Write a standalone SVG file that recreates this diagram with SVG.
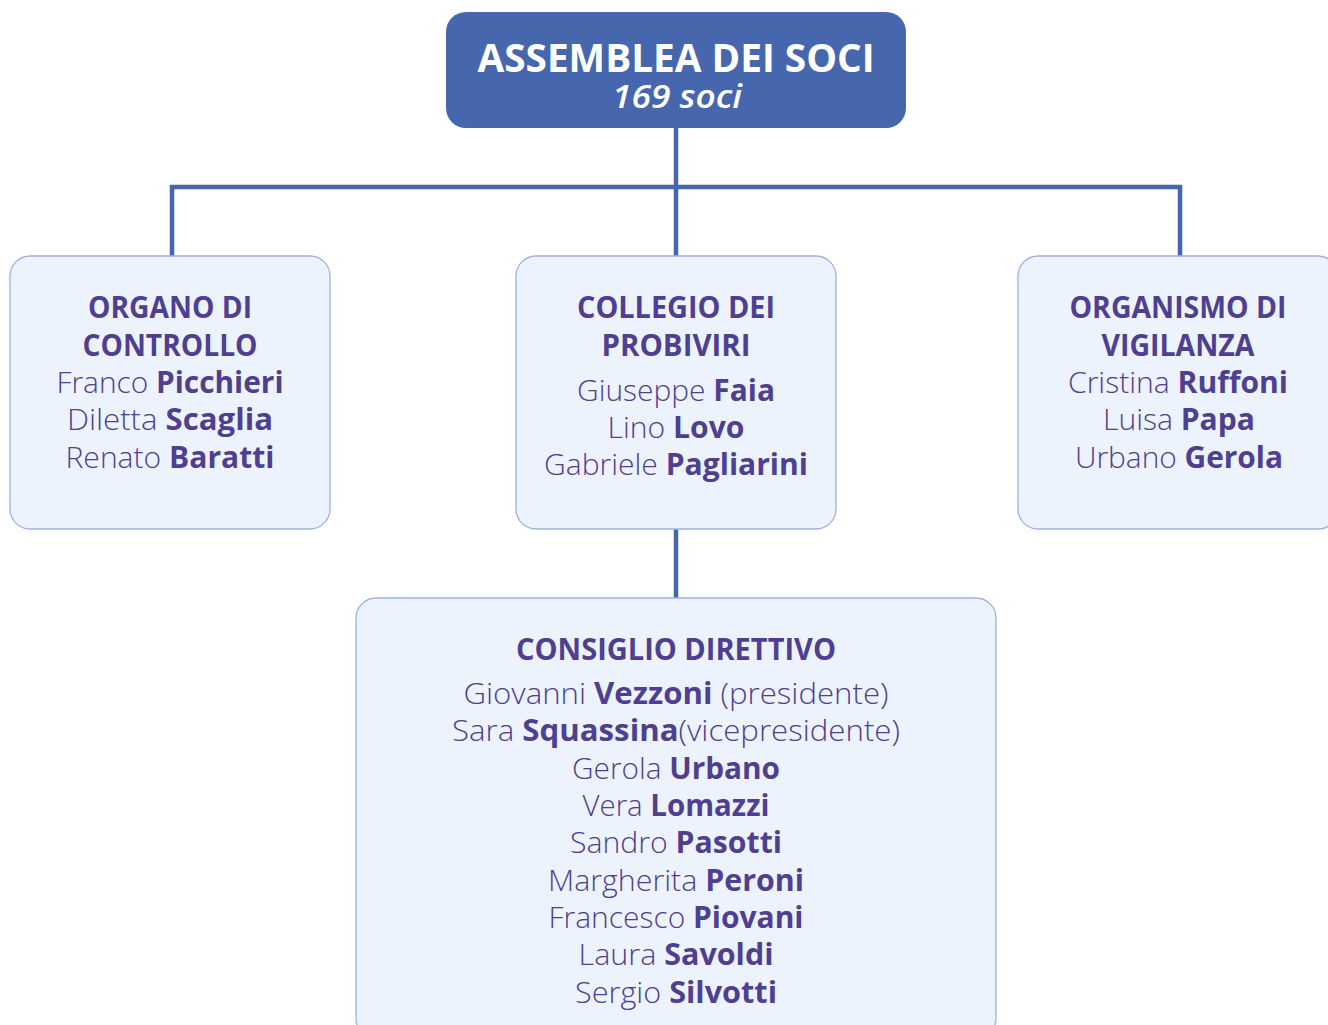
<svg xmlns="http://www.w3.org/2000/svg" width="1328" height="1025" viewBox="0 0 1328 1025">
<style>
.box{fill:#EDF3FC;stroke:#9DB1DE;stroke-width:1.3}
.t{font-family:"Open Sans","Noto Sans","Liberation Sans",sans-serif;fill:#4F3F91;text-anchor:middle;font-size:30px}
.l{font-weight:300}
.b{font-weight:700}
.c{fill:none;stroke:#4667AE;stroke-width:4.5}
</style>
<rect width="1328" height="1025" fill="#FFFFFF"/>
<g id="connectors">
<path class="c" d="M676 128V256M172 256V187H1180V256M676 529V598"/>
</g>
<g id="assemblea">
<rect x="446" y="12" width="460" height="116" rx="20" fill="#4667AE"/>
<text font-family="'Open Sans','Noto Sans',sans-serif" fill="#FFFFFF" text-anchor="middle"><tspan x="676" y="72" font-weight="700" font-size="40" textLength="397" lengthAdjust="spacingAndGlyphs">ASSEMBLEA DEI SOCI</tspan><tspan x="677" y="108" font-weight="600" font-style="italic" font-size="33" textLength="130" lengthAdjust="spacingAndGlyphs">169 soci</tspan></text>
</g>
<g id="organo-controllo">
<rect class="box" x="10" y="256" width="320" height="273" rx="20"/>
<text class="t b" x="170" y="318" textLength="164" lengthAdjust="spacingAndGlyphs">ORGANO DI</text>
<text class="t b" x="170" y="356" textLength="175" lengthAdjust="spacingAndGlyphs">CONTROLLO</text>
<text class="t" x="170" y="393" textLength="227" lengthAdjust="spacingAndGlyphs"><tspan class="l">Franco </tspan><tspan class="b">Picchieri</tspan></text>
<text class="t" x="170" y="430" textLength="206" lengthAdjust="spacingAndGlyphs"><tspan class="l">Diletta </tspan><tspan class="b">Scaglia</tspan></text>
<text class="t" x="170" y="468" textLength="209" lengthAdjust="spacingAndGlyphs"><tspan class="l">Renato </tspan><tspan class="b">Baratti</tspan></text>
</g>
<g id="collegio-probiviri">
<rect class="box" x="516" y="256" width="320" height="273" rx="20"/>
<text class="t b" x="676" y="318" textLength="198" lengthAdjust="spacingAndGlyphs">COLLEGIO DEI</text>
<text class="t b" x="676" y="356" textLength="149" lengthAdjust="spacingAndGlyphs">PROBIVIRI</text>
<text class="t" x="676" y="401" textLength="198" lengthAdjust="spacingAndGlyphs"><tspan class="l">Giuseppe </tspan><tspan class="b">Faia</tspan></text>
<text class="t" x="676" y="438" textLength="137" lengthAdjust="spacingAndGlyphs"><tspan class="l">Lino </tspan><tspan class="b">Lovo</tspan></text>
<text class="t" x="676" y="475" textLength="264" lengthAdjust="spacingAndGlyphs"><tspan class="l">Gabriele </tspan><tspan class="b">Pagliarini</tspan></text>
</g>
<g id="organismo-vigilanza">
<rect class="box" x="1018" y="256" width="320" height="273" rx="20"/>
<text class="t b" x="1178" y="318" textLength="217" lengthAdjust="spacingAndGlyphs">ORGANISMO DI</text>
<text class="t b" x="1178" y="356" textLength="153" lengthAdjust="spacingAndGlyphs">VIGILANZA</text>
<text class="t" x="1178" y="393" textLength="220" lengthAdjust="spacingAndGlyphs"><tspan class="l">Cristina </tspan><tspan class="b">Ruffoni</tspan></text>
<text class="t" x="1179" y="430" textLength="152" lengthAdjust="spacingAndGlyphs"><tspan class="l">Luisa </tspan><tspan class="b">Papa</tspan></text>
<text class="t" x="1179" y="468" textLength="208" lengthAdjust="spacingAndGlyphs"><tspan class="l">Urbano </tspan><tspan class="b">Gerola</tspan></text>
</g>
<g id="consiglio-direttivo">
<rect class="box" x="356" y="598" width="640" height="440" rx="20"/>
<text class="t b" x="676" y="660" textLength="320" lengthAdjust="spacingAndGlyphs">CONSIGLIO DIRETTIVO</text>
<text class="t" x="676" y="704" textLength="425" lengthAdjust="spacingAndGlyphs"><tspan class="l">Giovanni </tspan><tspan class="b">Vezzoni</tspan><tspan class="l"> (presidente)</tspan></text>
<text class="t" x="676" y="741" textLength="448" lengthAdjust="spacingAndGlyphs"><tspan class="l">Sara </tspan><tspan class="b">Squassina</tspan><tspan class="l">(vicepresidente)</tspan></text>
<text class="t" x="676" y="779" textLength="208" lengthAdjust="spacingAndGlyphs"><tspan class="l">Gerola </tspan><tspan class="b">Urbano</tspan></text>
<text class="t" x="676" y="816" textLength="187" lengthAdjust="spacingAndGlyphs"><tspan class="l">Vera </tspan><tspan class="b">Lomazzi</tspan></text>
<text class="t" x="676" y="853" textLength="212" lengthAdjust="spacingAndGlyphs"><tspan class="l">Sandro </tspan><tspan class="b">Pasotti</tspan></text>
<text class="t" x="676" y="891" textLength="256" lengthAdjust="spacingAndGlyphs"><tspan class="l">Margherita </tspan><tspan class="b">Peroni</tspan></text>
<text class="t" x="676" y="928" textLength="255" lengthAdjust="spacingAndGlyphs"><tspan class="l">Francesco </tspan><tspan class="b">Piovani</tspan></text>
<text class="t" x="676" y="965" textLength="195" lengthAdjust="spacingAndGlyphs"><tspan class="l">Laura </tspan><tspan class="b">Savoldi</tspan></text>
<text class="t" x="676" y="1003" textLength="202" lengthAdjust="spacingAndGlyphs"><tspan class="l">Sergio </tspan><tspan class="b">Silvotti</tspan></text>
</g>
</svg>
